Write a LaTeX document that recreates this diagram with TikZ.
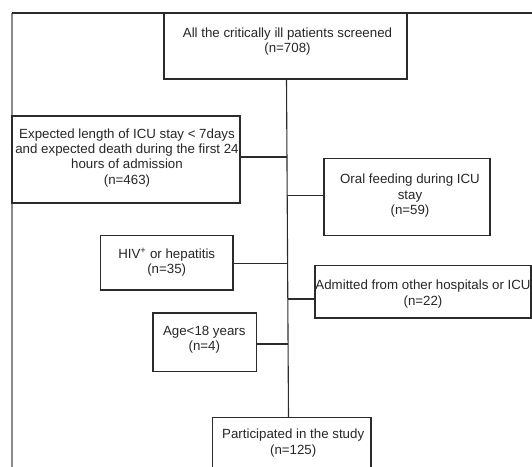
\documentclass[tikz,border=0pt]{standalone}
\usepackage{fontspec}
\setmainfont{Liberation Sans}
\definecolor{ln}{HTML}{2B2B2B}
\definecolor{tx}{HTML}{262626}
\definecolor{frm}{HTML}{8A8A8A}
\begin{document}
\begin{tikzpicture}[x=1pt,y=-1pt,
  box/.style={draw=ln,line width=1.1pt,inner sep=0pt,outer sep=0pt,anchor=north west},
  txt/.style={text=tx,align=center,inner sep=0pt,anchor=north,font=\fontsize{13.3}{15.3}\selectfont},
  conn/.style={draw=ln,line width=1.1pt}]
\useasboundingbox (0,0) rectangle (532,466);
\clip (0,0) rectangle (532,466);
% outer frame
\draw[line width=1.1pt,draw=frm] (12,480) -- (12,13);
\draw[conn] (12,13) -- (545,13);
% boxes
\node[box,minimum width=243pt,minimum height=65.7pt] (top) at (164,13.3) {};
\node[box,minimum width=228pt,minimum height=87pt] (b1) at (12,116) {};
\node[box,minimum width=166pt,minimum height=77pt] (b2) at (324,158.5) {};
\node[box,minimum width=132.3pt,minimum height=54.2pt] (b3) at (100.7,235.8) {};
\node[box,minimum width=216pt,minimum height=52.7pt] (b4) at (315,265.3) {};
\node[box,minimum width=103.6pt,minimum height=58.5pt] (b5) at (153,313) {};
\node[box,minimum width=158.3pt,minimum height=80pt] (bot) at (212.7,417.5) {};
% texts
\node[txt] (ttop) at (287.5,27.7) {All the critically ill patients screened\\(n=708)};
\node[txt] (tb1) at (127,128.3) {Expected length of ICU stay < 7days\\and expected death during the first 24\\hours of admission\\(n=463)};
\node[txt] (tb2) at (410,174) {Oral feeding during ICU\\stay\\(n=59)};
\node[txt] (tb3) at (166.7,247.7) {HIV\textsuperscript{+} or hepatitis\\(n=35)};
\node[txt] (tb4) at (423,280) {Admitted from other hospitals or ICU\\(n=22)};
\node[txt] (tb5) at (204.3,326) {Age<18 years\\(n=4)};
\node[txt] (tbot) at (293.2,429) {Participated in the study\\(n=125)};
% trunk
\coordinate (t1) at (286.5,79);
\coordinate (t2) at (288.5,417.5);
\draw[conn] (t1) -- (t2);
\coordinate (j1) at (287,157);
\coordinate (j2) at (287.3,195.8);
\coordinate (j3) at (287.6,263.5);
\coordinate (j4) at (287.9,299);
\coordinate (j5) at (288.2,344);
\draw[conn] (b1.east |- j1) -- (j1);
\draw[conn] (j2) -- (b2.west |- j2);
\draw[conn] (b3.east |- j3) -- (j3);
\draw[conn] (j4) -- (b4.west |- j4);
\draw[conn] (b5.east |- j5) -- (j5);
\end{tikzpicture}
\end{document}
